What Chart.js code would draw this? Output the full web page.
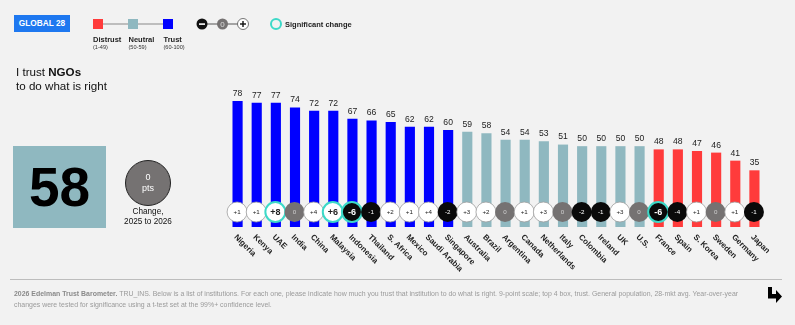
<!DOCTYPE html>
<html>
<head>
<meta charset="utf-8">
<script src="https://cdn.jsdelivr.net/npm/chart.js"></script>
<style>
  html, body { margin: 0; padding: 0; background: #f2f2f2; }
  body { width: 795px; height: 325px; position: relative; overflow: hidden;
         font-family: "Liberation Sans", Arial, sans-serif; color: #111; }
  #chart { position: absolute; left: 0; top: 0; }
  .abs { position: absolute; }
  .badge { left: 14px; top: 15px; width: 56px; height: 17px; background: #1e78f0; color: #fff;
           font-weight: bold; font-size: 8.3px; line-height: 17px; text-align: center; }
  .leg-lbl { font-size: 7.5px; font-weight: bold; color: #222; white-space: nowrap; }
  .leg-sub { font-size: 5.6px; color: #333; white-space: nowrap; }
  .title { left: 16px; top: 65px; font-size: 11.6px; line-height: 14px; color: #111; }
  .bigbox { left: 13px; top: 146px; width: 93px; height: 82px; background: #8fb8c0;
            font-weight: bold; font-size: 55px; line-height: 82px; text-align: center; color: #000; }
  .chg { left: 125px; top: 160px; width: 46px; height: 46px; border-radius: 50%; background: #757272;
         border: 1px solid #222; box-sizing: border-box; color: #fff; font-size: 9px;
         text-align: center; line-height: 11px; padding-top: 11px; }
  .chg-cap { left: 108px; top: 207px; width: 80px; text-align: center; font-size: 8.2px; line-height: 10px; color: #111; }
  .rule { left: 10px; top: 279px; width: 772px; height: 1px; background: #bdbdbd; }
  .foot { left: 14px; top: 288px; font-size: 6.95px; line-height: 11px; color: #9a9a9a; white-space: nowrap; }
  .foot b { color: #8a8a8a; }
</style>
</head>
<body>
<canvas id="chart" width="795" height="325"></canvas>

<div class="abs badge">GLOBAL 28</div>

<!-- trust band legend and change legend -->
<svg class="abs" style="left:0;top:0" width="360" height="40">
  <line x1="98" y1="24" x2="168" y2="24" stroke="#888" stroke-width="1"/>
  <rect x="93" y="19" width="10" height="10" fill="#ff3b3b"/>
  <rect x="128" y="19" width="10" height="10" fill="#8fb8c0"/>
  <rect x="163" y="19" width="10" height="10" fill="#0000ff"/>
  <line x1="202" y1="24" x2="243" y2="24" stroke="#555" stroke-width="1"/>
  <circle cx="202" cy="24" r="5.5" fill="#111"/>
  <rect x="199" y="23.3" width="6" height="1.6" fill="#fff"/>
  <circle cx="222.5" cy="24" r="5.5" fill="#757272"/>
  <text x="222.5" y="27" font-size="8" fill="#ddd" text-anchor="middle" font-family="Liberation Sans, Arial">0</text>
  <circle cx="243" cy="24" r="5.5" fill="#fff" stroke="#555" stroke-width="0.8"/>
  <rect x="240" y="23.3" width="6" height="1.4" fill="#111"/>
  <rect x="242.3" y="21" width="1.4" height="6" fill="#111"/>
  <circle cx="276" cy="24" r="5" fill="none" stroke="#3dd9c8" stroke-width="2"/>
</svg>
<div class="abs leg-lbl" style="left:285px;top:20px">Significant change</div>
<div class="abs leg-lbl" style="left:93px;top:35px">Distrust</div>
<div class="abs leg-sub" style="left:93px;top:44px">(1-49)</div>
<div class="abs leg-lbl" style="left:128.5px;top:35px">Neutral</div>
<div class="abs leg-sub" style="left:128.5px;top:44px">(50-59)</div>
<div class="abs leg-lbl" style="left:163.5px;top:35px">Trust</div>
<div class="abs leg-sub" style="left:163.5px;top:44px">(60-100)</div>

<div class="abs title">I trust <b>NGOs</b><br>to do what is right</div>

<div class="abs bigbox" id="globalScore"></div>
<div class="abs chg" id="globalChange"></div>
<div class="abs chg-cap">Change,<br>2025 to 2026</div>

<div class="abs rule"></div>
<div class="abs foot"><b>2026 Edelman Trust Barometer.</b> TRU_INS. Below is a list of institutions. For each one, please indicate how much you trust that institution to do what is right. 9-point scale; top 4 box, trust. General population, 28-mkt avg. Year-over-year<br>changes were tested for significance using a t-test set at the 99%+ confidence level.</div>

<svg class="abs" style="left:766px;top:286px" width="18" height="18" viewBox="0 0 18 18">
  <path d="M2,1 L6,1 L6,8 L10,8 L10,4 L16,10.5 L10,17 L10,12.5 L2,12.5 Z" fill="#000"/>
</svg>

<script>
const globalScore = 58;
const globalChange = 0;

const countries = ["Nigeria", "Kenya", "UAE", "India", "China", "Malaysia", "Indonesia", "Thailand",
  "S. Africa", "Mexico", "Saudi Arabia", "Singapore", "Australia", "Brazil", "Argentina", "Canada",
  "Netherlands", "Italy", "Colombia", "Ireland", "UK", "U.S.", "France", "Spain", "S. Korea",
  "Sweden", "Germany", "Japan"];
const trustScores = [78, 77, 77, 74, 72, 72, 67, 66, 65, 62, 62, 60, 59, 58, 54, 54, 53, 51,
  50, 50, 50, 50, 48, 48, 47, 46, 41, 35];
const yearChange = [1, 1, 8, 0, 4, 6, -6, -1, 2, 1, 4, -2, 3, 2, 0, 1, 3, 0, -2, -1, 3, 0,
  -6, -4, 1, 0, 1, -1];
const significant = ["UAE", "Malaysia", "Indonesia", "France"];

const TRUST = "#0000ff", NEUTRAL = "#8fb8c0", DISTRUST = "#ff3b3b";
const FONT = "'Liberation Sans', Arial, sans-serif";

function bandColor(v) {
  if (v >= 60) return TRUST;
  if (v >= 50) return NEUTRAL;
  return DISTRUST;
}

function fmtChange(c) {
  return c > 0 ? "+" + c : String(c);
}

document.getElementById("globalScore").textContent = globalScore;
document.getElementById("globalChange").innerHTML = globalChange + "<br>pts";

// values above bars, change bubbles and slanted country names
const barDecor = {
  id: "barDecor",
  afterDatasetsDraw(chart) {
    const ctx = chart.ctx;
    const area = chart.chartArea;
    const meta = chart.getDatasetMeta(0);
    ctx.save();
    meta.data.forEach((bar, i) => {
      // score
      ctx.fillStyle = "#222";
      ctx.font = "8.6px " + FONT;
      ctx.textAlign = "center";
      ctx.textBaseline = "bottom";
      ctx.fillText(trustScores[i], bar.x, bar.y - 3.5);

      // change bubble
      const c = yearChange[i];
      const sig = significant.includes(countries[i]);
      const cx = bar.x - 0.5, cy = area.bottom - 15;
      ctx.beginPath();
      ctx.arc(cx, cy, 10, 0, Math.PI * 2);
      ctx.fillStyle = c > 0 ? "#ffffff" : (c < 0 ? "#0a0a0a" : "#757272");
      ctx.fill();
      if (sig) {
        ctx.lineWidth = 2;
        ctx.strokeStyle = "#3dd9c8";
        ctx.stroke();
      } else if (c > 0) {
        ctx.lineWidth = 0.8;
        ctx.strokeStyle = "#a0a0a0";
        ctx.stroke();
      }
      ctx.fillStyle = c > 0 ? "#222" : (c < 0 ? "#fff" : "#d0d0d0");
      ctx.font = sig ? "bold 9px " + FONT : "6.2px " + FONT;
      ctx.textBaseline = "middle";
      ctx.fillText(fmtChange(c), cx, cy + 0.5);

      // country name
      ctx.save();
      ctx.translate(bar.x + 0.5, area.bottom + 6);
      ctx.rotate(Math.PI / 4);
      ctx.fillStyle = "#222";
      ctx.font = "bold 8px " + FONT;
      ctx.textAlign = "left";
      ctx.textBaseline = "top";
      ctx.fillText(countries[i], 0, 0);
      ctx.restore();
    });
    ctx.restore();
  }
};

new Chart(document.getElementById("chart"), {
  type: "bar",
  data: {
    labels: countries,
    datasets: [{
      data: trustScores,
      backgroundColor: trustScores.map(bandColor),
      barThickness: 9.5,
      borderWidth: 0
    }]
  },
  options: {
    responsive: false,
    animation: false,
    layout: { padding: { left: 228, right: 31, top: 66, bottom: 98 } },
    plugins: { legend: { display: false }, tooltip: { enabled: false } },
    scales: {
      x: { display: false },
      y: { display: false, min: 0, max: 100 }
    }
  },
  plugins: [barDecor]
});
</script>
</body>
</html>
